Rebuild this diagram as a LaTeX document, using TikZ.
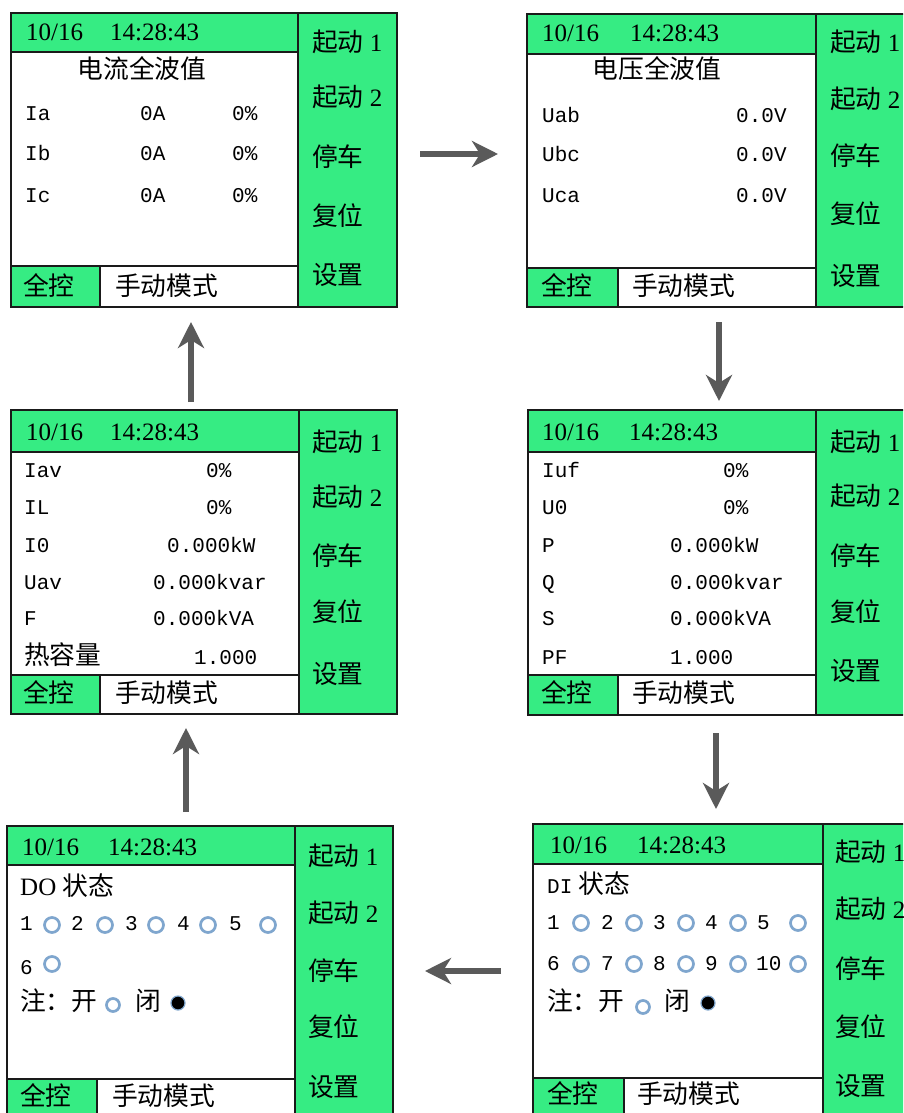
\documentclass[tikz,border=0pt]{standalone}
\usepackage{fontspec}
\usepackage{xcolor}
\usepackage{tikz}
\usetikzlibrary{arrows.meta}
\setmainfont{Liberation Serif}
\newfontfamily\cjk[Scale=1.03]{Noto Sans CJK SC}
\newfontfamily\lcd[Scale=0.84]{Liberation Mono}
\definecolor{LcdGreen}{HTML}{36EC83}
\definecolor{LcdLine}{HTML}{1A1A1A}
\definecolor{LedBlue}{HTML}{7FA6CE}
\definecolor{FlowGray}{HTML}{5A5A5A}

\begin{document}
\begin{tikzpicture}[x=1pt,y=-1pt,
  txt/.style={inner sep=0pt,anchor=west,text height=21pt,text depth=4pt,font=\fontsize{25}{30}\selectfont},
  zh/.style={txt,font=\fontsize{25}{30}\selectfont\cjk},
  mono/.style={txt,font=\fontsize{25}{30}\selectfont\lcd},
  lcdframe/.style={LcdLine,line width=1.4pt},
  led/.style={LedBlue,line width=2.7pt},
  flow/.style={FlowGray,line width=6pt,-{Stealth[length=26pt,width=26pt,inset=8pt]}}]
\clip (0,0) rectangle (903,1113);
\fill[white] (0,0) rectangle (903,1113);
% panel: current
\fill[LcdGreen] (11,13) rectangle (298,52);
\fill[LcdGreen] (298,13) rectangle (397,307);
\fill[LcdGreen] (11,266) rectangle (100,307);
\draw[lcdframe] (11,13) rectangle (397,307);
\draw[lcdframe] (11,52) -- (298,52);
\draw[lcdframe] (298,13) -- (298,307);
\draw[lcdframe] (11,266) -- (298,266);
\draw[lcdframe] (100,266) -- (100,307);
\node[txt] (tlDate) at (26,32) {10/16};
\node[txt] (tlClock) at (110,32) {14:28:43};
\node[zh,anchor=center] (tlHead) at (142,70) {电流全波值};
\node[mono] (tlIa) at (25,112) {Ia};
\node[mono] (tlIaA) at (140,112) {0A};
\node[mono] (tlIaP) at (232,112) {0\%};
\node[mono] (tlIb) at (25,152) {Ib};
\node[mono] (tlIbA) at (140,152) {0A};
\node[mono] (tlIbP) at (232,152) {0\%};
\node[mono] (tlIc) at (25,194) {Ic};
\node[mono] (tlIcA) at (140,194) {0A};
\node[mono] (tlIcP) at (232,194) {0\%};
\node[txt] (tlS1) at (312,43) {{\cjk 起动} 1};
\node[txt] (tlS2) at (312,98) {{\cjk 起动} 2};
\node[zh] (tlStop) at (312,158) {停车};
\node[zh] (tlReset) at (312,217) {复位};
\node[zh] (tlSet) at (312,276) {设置};
\node[zh] (tlAll) at (23,287) {全控};
\node[zh] (tlMode) at (115,287) {手动模式};
% panel: voltage
\fill[LcdGreen] (527,14) rectangle (816,54);
\fill[LcdGreen] (816,14) rectangle (910,307);
\fill[LcdGreen] (527,268) rectangle (618,307);
\draw[lcdframe] (527,14) rectangle (910,307);
\draw[lcdframe] (527,54) -- (816,54);
\draw[lcdframe] (816,14) -- (816,307);
\draw[lcdframe] (527,268) -- (816,268);
\draw[lcdframe] (618,268) -- (618,307);
\node[txt] (trDate) at (542,33) {10/16};
\node[txt] (trClock) at (630,33) {14:28:43};
\node[zh,anchor=center] (trHead) at (657,70) {电压全波值};
\node[mono] (trUab) at (542,114) {Uab};
\node[mono] (trUabV) at (736,114) {0.0V};
\node[mono] (trUbc) at (542,153) {Ubc};
\node[mono] (trUbcV) at (736,153) {0.0V};
\node[mono] (trUca) at (542,194) {Uca};
\node[mono] (trUcaV) at (736,194) {0.0V};
\node[txt] (trS1) at (830,43) {{\cjk 起动} 1};
\node[txt] (trS2) at (830,100) {{\cjk 起动} 2};
\node[zh] (trStop) at (830,157) {停车};
\node[zh] (trReset) at (830,215) {复位};
\node[zh] (trSet) at (830,277) {设置};
\node[zh] (trAll) at (541,287) {全控};
\node[zh] (trMode) at (632,287) {手动模式};
% panel: power
\fill[LcdGreen] (528,410) rectangle (816,452);
\fill[LcdGreen] (816,410) rectangle (910,715);
\fill[LcdGreen] (528,675) rectangle (618,715);
\draw[lcdframe] (528,410) rectangle (910,715);
\draw[lcdframe] (528,452) -- (816,452);
\draw[lcdframe] (816,410) -- (816,715);
\draw[lcdframe] (528,675) -- (816,675);
\draw[lcdframe] (618,675) -- (618,715);
\node[txt] (mrDate) at (542,432) {10/16};
\node[txt] (mrClock) at (629,432) {14:28:43};
\node[mono] (mrIuf) at (542,469) {Iuf};
\node[mono] (mrIufV) at (723,469) {0\%};
\node[mono] (mrUz) at (542,506) {U0};
\node[mono] (mrUzV) at (723,506) {0\%};
\node[mono] (mrP) at (542,544) {P};
\node[mono] (mrPV) at (670,544) {0.000kW};
\node[mono] (mrQ) at (542,581) {Q};
\node[mono] (mrQV) at (670,581) {0.000kvar};
\node[mono] (mrS) at (542,617) {S};
\node[mono] (mrSV) at (670,617) {0.000kVA};
\node[mono] (mrPF) at (542,656) {PF};
\node[mono] (mrPFV) at (670,656) {1.000};
\node[txt] (mrS1) at (830,443) {{\cjk 起动} 1};
\node[txt] (mrS2) at (830,497) {{\cjk 起动} 2};
\node[zh] (mrStop) at (830,557) {停车};
\node[zh] (mrReset) at (830,613) {复位};
\node[zh] (mrSet) at (830,672) {设置};
\node[zh] (mrAll) at (541,694) {全控};
\node[zh] (mrMode) at (632,694) {手动模式};
% panel: averages
\fill[LcdGreen] (11,410) rectangle (299,452);
\fill[LcdGreen] (299,410) rectangle (397,714);
\fill[LcdGreen] (11,675) rectangle (100,714);
\draw[lcdframe] (11,410) rectangle (397,714);
\draw[lcdframe] (11,452) -- (299,452);
\draw[lcdframe] (299,410) -- (299,714);
\draw[lcdframe] (11,675) -- (299,675);
\draw[lcdframe] (100,675) -- (100,714);
\node[txt] (mlDate) at (26,432) {10/16};
\node[txt] (mlClock) at (110,432) {14:28:43};
\node[mono] (mlIav) at (24,469) {Iav};
\node[mono] (mlIavV) at (206,469) {0\%};
\node[mono] (mlIL) at (24,506) {IL};
\node[mono] (mlILV) at (206,506) {0\%};
\node[mono] (mlIz) at (24,544) {I0};
\node[mono] (mlIzV) at (167,544) {0.000kW};
\node[mono] (mlUav) at (24,581) {Uav};
\node[mono] (mlUavV) at (153,581) {0.000kvar};
\node[mono] (mlF) at (24,617) {F};
\node[mono] (mlFV) at (153,617) {0.000kVA};
\node[zh] (mlHeat) at (24,656) {热容量};
\node[mono] (mlHeatV) at (194,656) {1.000};
\node[txt] (mlS1) at (312,443) {{\cjk 起动} 1};
\node[txt] (mlS2) at (312,498) {{\cjk 起动} 2};
\node[zh] (mlStop) at (312,557) {停车};
\node[zh] (mlReset) at (312,613) {复位};
\node[zh] (mlSet) at (312,675) {设置};
\node[zh] (mlAll) at (23,694) {全控};
\node[zh] (mlMode) at (115,694) {手动模式};
% panel: DI
\fill[LcdGreen] (533,824) rectangle (823,864);
\fill[LcdGreen] (823,824) rectangle (910,1120);
\fill[LcdGreen] (533,1078) rectangle (624,1120);
\draw[lcdframe] (533,824) rectangle (910,1120);
\draw[lcdframe] (533,864) -- (823,864);
\draw[lcdframe] (823,824) -- (823,1120);
\draw[lcdframe] (533,1078) -- (823,1078);
\draw[lcdframe] (624,1078) -- (624,1120);
\node[txt] (brDate) at (550,845) {10/16};
\node[txt] (brClock) at (637,845) {14:28:43};
\node[txt] (brHead) at (547,885) {{\lcd DI} {\cjk 状态}};
\node[mono] (brN1) at (547,921) {1};
\node[mono] (brN2) at (601,921) {2};
\node[mono] (brN3) at (653,921) {3};
\node[mono] (brN4) at (705,921) {4};
\node[mono] (brN5) at (757,921) {5};
\node[mono] (brN6) at (547,962) {6};
\node[mono] (brN7) at (601,962) {7};
\node[mono] (brN8) at (653,962) {8};
\node[mono] (brN9) at (705,962) {9};
\node[mono] (brN10) at (756,962) {10};
\draw[led] (581,923) circle (7.5pt) (634,923) circle (7.5pt) (686,923) circle (7.5pt) (738,923) circle (7.5pt) (798,923) circle (7.5pt);
\draw[led] (581,964) circle (7.5pt) (634,964) circle (7.5pt) (686,964) circle (7.5pt) (738,964) circle (7.5pt) (798,964) circle (7.5pt);
\node[zh] (brNote) at (547,1002) {注：开};
\draw[led] (643,1007) circle (6.5pt);
\node[zh] (brClosed) at (664,1002) {闭};
\fill[black,draw=LedBlue,line width=1.2pt] (708,1003) circle (7pt);
\node[txt] (brS1) at (835,853) {{\cjk 起动} 1};
\node[txt] (brS2) at (835,910) {{\cjk 起动} 2};
\node[zh] (brStop) at (835,970) {停车};
\node[zh] (brReset) at (835,1028) {复位};
\node[zh] (brSet) at (835,1087) {设置};
\node[zh] (brAll) at (547,1095) {全控};
\node[zh] (brMode) at (637,1095) {手动模式};
% panel: DO
\fill[LcdGreen] (7,826) rectangle (295,865);
\fill[LcdGreen] (295,826) rectangle (393,1120);
\fill[LcdGreen] (7,1079) rectangle (97,1120);
\draw[lcdframe] (7,826) rectangle (393,1120);
\draw[lcdframe] (7,865) -- (295,865);
\draw[lcdframe] (295,826) -- (295,1120);
\draw[lcdframe] (7,1079) -- (295,1079);
\draw[lcdframe] (97,1079) -- (97,1120);
\node[txt] (blDate) at (22,847) {10/16};
\node[txt] (blClock) at (108,847) {14:28:43};
\node[txt] (blHead) at (20,887) {DO {\cjk 状态}};
\node[mono] (blN1) at (20,922) {1};
\node[mono] (blN2) at (71,922) {2};
\node[mono] (blN3) at (125,922) {3};
\node[mono] (blN4) at (177,922) {4};
\node[mono] (blN5) at (229,922) {5};
\node[mono] (blN6) at (20,966) {6};
\draw[led] (52,925) circle (7.5pt) (105,925) circle (7.5pt) (156,925) circle (7.5pt) (208,925) circle (7.5pt) (268,925) circle (7.5pt);
\draw[led] (52,964) circle (7.5pt);
\node[zh] (blNote) at (20,1002) {注：开};
\draw[led] (113,1005) circle (6.5pt);
\node[zh] (blClosed) at (135,1002) {闭};
\fill[black,draw=LedBlue,line width=1.2pt] (178,1003) circle (7pt);
\node[txt] (blS1) at (308,857) {{\cjk 起动} 1};
\node[txt] (blS2) at (308,914) {{\cjk 起动} 2};
\node[zh] (blStop) at (308,972) {停车};
\node[zh] (blReset) at (308,1028) {复位};
\node[zh] (blSet) at (308,1088) {设置};
\node[zh] (blAll) at (20,1097) {全控};
\node[zh] (blMode) at (112,1097) {手动模式};
% flow between screens
\coordinate (goRs) at (420,154);
\coordinate (goRe) at (498,154);
\coordinate (goD1s) at (719,322);
\coordinate (goD1e) at (719,401);
\coordinate (goD2s) at (716,733);
\coordinate (goD2e) at (716,809);
\coordinate (goLs) at (501,971);
\coordinate (goLe) at (425,971);
\coordinate (goU1s) at (186,812);
\coordinate (goU1e) at (186,728);
\coordinate (goU2s) at (191,402);
\coordinate (goU2e) at (191,322);
\draw[flow] (goRs) -- (goRe);
\draw[flow] (goD1s) -- (goD1e);
\draw[flow] (goD2s) -- (goD2e);
\draw[flow] (goLs) -- (goLe);
\draw[flow] (goU1s) -- (goU1e);
\draw[flow] (goU2s) -- (goU2e);
\end{tikzpicture}
\end{document}
